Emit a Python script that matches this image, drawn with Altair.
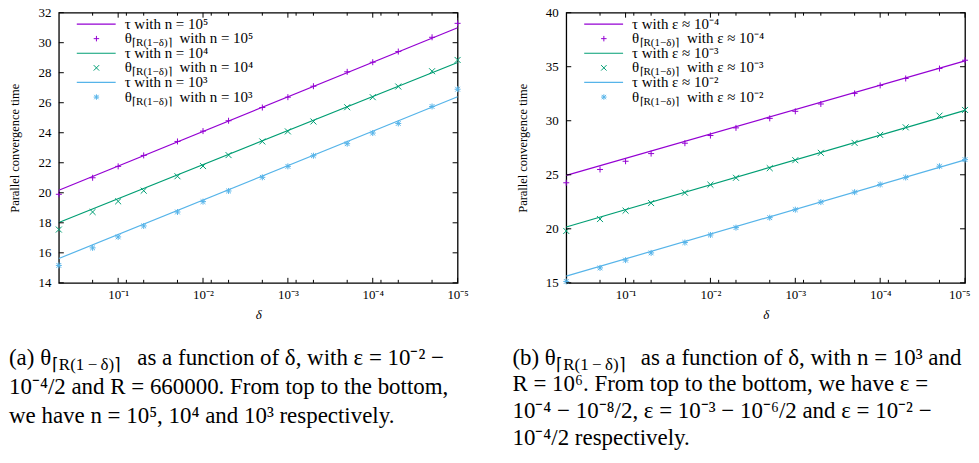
import altair as alt
import pandas as pd

# ---------------- data ----------------
DELTA = [0.5, 0.2, 0.1, 0.05, 0.02, 0.01, 0.005, 0.002, 0.001, 5e-4, 2e-4, 1e-4, 5e-5, 2e-5, 1e-5]
DELTA_ENDS = [0.5, 1e-5]

# panel (a): n = 1e5, 1e4, 1e3
THETA_A_N5 = [19.9, 21.0, 21.76, 22.49, 23.42, 24.11, 24.8, 25.68, 26.37, 27.1, 28.06, 28.7, 29.41, 30.36, 31.29]
THETA_A_N4 = [17.55, 18.72, 19.43, 20.14, 21.1, 21.78, 22.51, 23.42, 24.09, 24.75, 25.7, 26.37, 27.08, 28.1, 28.85]
THETA_A_N3 = [15.16, 16.33, 17.06, 17.79, 18.72, 19.41, 20.12, 21.03, 21.76, 22.47, 23.27, 23.98, 24.62, 25.75, 26.9]
TAU_A_N5 = [20.17, 31.0]
TAU_A_N4 = [18.02, 28.68]
TAU_A_N3 = [15.62, 26.4]

# panel (b): eps ~ 1e-4, 1e-3, 1e-2
THETA_B_E4 = [24.26, 25.49, 26.25, 26.96, 27.92, 28.63, 29.34, 30.22, 30.87, 31.55, 32.53, 33.27, 33.91, 34.83, 35.6]
THETA_B_E3 = [19.8, 20.9, 21.68, 22.38, 23.34, 24.08, 24.72, 25.61, 26.35, 27.03, 27.95, 28.69, 29.39, 30.47, 31.0]
THETA_B_E2 = [15.13, 16.38, 17.1, 17.77, 18.73, 19.43, 20.11, 21.03, 21.77, 22.47, 23.39, 24.1, 24.75, 25.79, 26.4]
TAU_B_E4 = [24.94, 35.54]
TAU_B_E3 = [20.17, 30.96]
TAU_B_E2 = [15.62, 26.38]

SERIES = ["s1", "s2", "s3"]
COLORS = ["#9400d3", "#009e73", "#56b4e9"]
SHAPES = [
    "M-1,0L1,0M0,-1L0,1",
    "M-1,-1L1,1M-1,1L1,-1",
    "M-1,0L1,0M0,-1L0,1M-0.8,-0.8L0.8,0.8M-0.8,0.8L0.8,-0.8",
]

X_MAJOR = [1e-1, 1e-2, 1e-3, 1e-4, 1e-5]
X_MINOR = [0.2, 0.08, 0.05, 0.02, 0.008, 0.005, 0.002, 8e-4, 5e-4, 2e-4, 8e-5, 5e-5, 2e-5]
Y_TICKS_A = [14, 16, 18, 20, 22, 24, 26, 28, 30, 32]
Y_TICKS_B = [15, 20, 25, 30, 35, 40]

NB = "\u00a0"
LEGEND_A = [f"τ with n{NB}={NB}10⁵", f"with n{NB}={NB}10⁵", f"τ with n{NB}={NB}10⁴",
            f"with n{NB}={NB}10⁴", f"τ with n{NB}={NB}10³", f"with n{NB}={NB}10³"]
LEGEND_B = [f"τ with ε{NB}≈{NB}10⁻⁴", f"with ε{NB}≈{NB}10⁻⁴", f"τ with ε{NB}≈{NB}10⁻³",
            f"with ε{NB}≈{NB}10⁻³", f"τ with ε{NB}≈{NB}10⁻²", f"with ε{NB}≈{NB}10⁻²"]
SUB_LEG = "⌈R(1−δ)⌉"
SUB_CAP = "⌈R(1\u2009−\u2009δ)⌉"

CAPTION_A = [
    "(a) θ", SUB_CAP, "as a function of δ, with ε = 10⁻² −",
    "10⁻⁴/2 and R = 660000. From top to the bottom,",
    "we have n = 10⁵, 10⁴ and 10³ respectively.",
]
CAPTION_B = [
    "(b) θ", SUB_CAP, "as a function of δ, with n = 10³ and",
    "R = 10⁶. From top to the bottom, we have ε =",
    "10⁻⁴ − 10⁻⁸/2, ε = 10⁻³ − 10⁻⁶/2 and ε = 10⁻² −",
    "10⁻⁴/2 respectively.",
]

# ---------------- layout ----------------
W, H = 400, 271
FONT = "Liberation Serif"
ONE = pd.DataFrame({"k": [0]})
ROWS = [11.4, 26.05, 40.7, 55.35, 70.0, 84.65]
CAP = 23


def txt(s, x, y, size, **kw):
    return alt.Chart(ONE).mark_text(
        align="left", baseline="alphabetic", font=FONT, fontSize=size, color="black", **kw
    ).encode(x=alt.value(x), y=alt.value(y), text=alt.value(s))


def panel(thetas, taus, ydom, yticks, legend, caption, xs, cap_rows, limit_right=None, flush=False):
    xscale = alt.Scale(type="log", domain=[1e-5, 0.5], reverse=True, nice=False)
    yscale = alt.Scale(domain=ydom, nice=False, zero=False)

    pts = pd.DataFrame(
        [{"delta": d, "value": v, "series": s} for s, vals in zip(SERIES, thetas) for d, v in zip(DELTA, vals)]
    )
    lns = pd.DataFrame(
        [{"delta": d, "value": v, "series": s} for s, vals in zip(SERIES, taus) for d, v in zip(DELTA_ENDS, vals)]
    )

    flush_kw = {"labelFlush": True, "labelFlushOffset": 5} if flush else {"labelFlush": False}
    xaxis = alt.Axis(
        values=X_MAJOR,
        labelExpr=("datum.value > 0.05 ? '10⁻¹' : datum.value > 0.005 ? '10⁻²' : "
                   "datum.value > 0.0005 ? '10⁻³' : datum.value > 0.00005 ? '10⁻⁴' : '10⁻⁵'"),
        tickSize=0, domain=False, grid=False, title="δ",
        labelFontSize=13, labelPadding=6, titleFontSize=13, titleFontStyle="italic", titlePadding=7,
        **flush_kw,
    )
    yaxis = alt.Axis(
        values=yticks, tickSize=0, domain=False, grid=False, title="Parallel convergence time",
        labelFontSize=13, labelPadding=8, titleFontSize=12.5, titlePadding=16,
    )
    color = alt.Color("series:N", scale=alt.Scale(domain=SERIES, range=COLORS), legend=None)

    lines = alt.Chart(lns).mark_line(strokeWidth=1.2).encode(
        x=alt.X("delta:Q", scale=xscale, axis=xaxis),
        y=alt.Y("value:Q", scale=yscale, axis=yaxis),
        color=color, detail="series:N",
    )
    points = alt.Chart(pts).mark_point(filled=False, strokeWidth=1, size=36, opacity=1).encode(
        x=alt.X("delta:Q", scale=xscale, axis=xaxis),
        y=alt.Y("value:Q", scale=yscale, axis=yaxis),
        color=color,
        shape=alt.Shape("series:N", scale=alt.Scale(domain=SERIES, range=SHAPES), legend=None),
    )

    xmaj = pd.DataFrame({"delta": X_MAJOR})
    xmin = pd.DataFrame({"delta": X_MINOR})
    yt = pd.DataFrame({"value": yticks})
    tick_layers = []
    for df, ln in ((xmaj, 5), (xmin, 3)):
        for y0, y1 in ((H, H - ln), (0, ln)):
            tick_layers.append(
                alt.Chart(df).mark_rule(color="black", strokeWidth=1).encode(
                    x=alt.X("delta:Q", scale=xscale, axis=xaxis), y=alt.value(y0), y2=alt.value(y1)
                )
            )
    for x0, x1 in ((0, 5), (W, W - 5)):
        tick_layers.append(
            alt.Chart(yt).mark_rule(color="black", strokeWidth=1).encode(
                y=alt.Y("value:Q", scale=yscale, axis=yaxis), x=alt.value(x0), x2=alt.value(x1)
            )
        )

    leg = []
    for i in range(3):
        r_line, r_pt = ROWS[2 * i], ROWS[2 * i + 1]
        leg.append(alt.Chart(ONE).mark_rule(color=COLORS[i], strokeWidth=1.2).encode(
            x=alt.value(18), x2=alt.value(57), y=alt.value(r_line)))
        leg.append(txt(legend[2 * i], 66, r_line + 4.5, 15))
        leg.append(alt.Chart(ONE).mark_point(shape=SHAPES[i], color=COLORS[i], size=30, filled=False,
                                             strokeWidth=1, opacity=1).encode(
            x=alt.value(37.7), y=alt.value(r_pt)))
        leg.append(txt("θ", 66, r_pt + 4.5, 15))
        leg.append(txt(SUB_LEG, 73.5, r_pt + 7.5, 11))
        leg.append(txt(legend[2 * i + 1], 121, r_pt + 4.5, 15))

    cap_x, sub_x, rest_x = xs
    kw0, kw1 = {}, {}
    if limit_right is not None:
        kw0 = {"limit": limit_right - cap_x, "ellipsis": ""}
        kw1 = {"limit": limit_right - rest_x, "ellipsis": ""}
    cap = [
        txt(caption[0], cap_x, cap_rows[0], CAP),
        txt(caption[1], sub_x, cap_rows[0] + 5, 17),
        txt(caption[2], rest_x, cap_rows[0], CAP, **kw1),
    ]
    for j, line in enumerate(caption[3:]):
        cap.append(txt(line, cap_x, cap_rows[j + 1], CAP, **kw0))

    return alt.layer(lines, points, *tick_layers, *leg, *cap).properties(width=W, height=H)


left = panel(
    [THETA_A_N5, THETA_A_N4, THETA_A_N3], [TAU_A_N5, TAU_A_N4, TAU_A_N3],
    [14, 32], Y_TICKS_A, LEGEND_A, CAPTION_A,
    xs=(-50, -7, 78.7), cap_rows=[353.3, 382.3, 411.3],
)
right = panel(
    [THETA_B_E4, THETA_B_E3, THETA_B_E2], [TAU_B_E4, TAU_B_E3, TAU_B_E2],
    [15, 40], Y_TICKS_B, LEGEND_B, CAPTION_B,
    xs=(-54, -10, 74.7), cap_rows=[353.3, 379.3, 406.3, 433.3], limit_right=403, flush=True,
)

chart = (
    alt.hconcat(left, right, spacing=109, bounds="flush")
    .properties(padding={"left": 0, "top": -3, "right": 0, "bottom": 0})
    .configure_view(stroke="black", strokeWidth=1.3)
    .configure_axis(labelFont=FONT, titleFont=FONT, labelColor="black", titleColor="black",
                    titleFontWeight="normal")
)

chart.save("out.html", embed_options={"renderer": "svg", "actions": False})
